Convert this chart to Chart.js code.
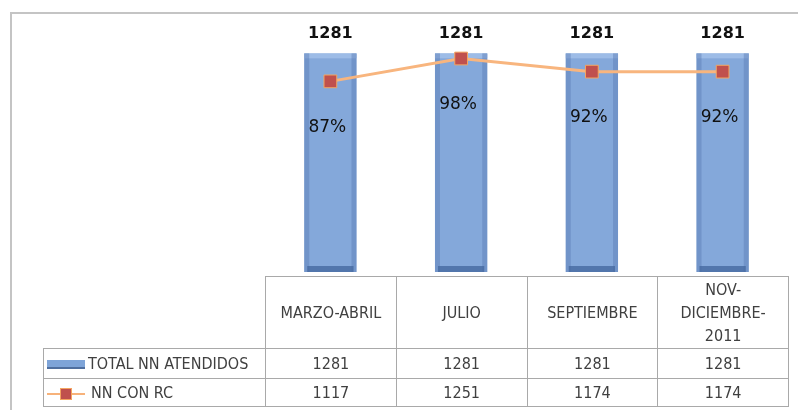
<!DOCTYPE html>
<html>
<head>
<meta charset="utf-8">
<script src="https://cdn.jsdelivr.net/npm/chart.js@4.4.1/dist/chart.umd.min.js"></script>
<style>
    body { margin: 0; background: #fff; }
    #wrap { position: relative; width: 798px; height: 410px; overflow: hidden; }
    #frame { position: absolute; left: 10px; top: 12px; width: 820px; height: 420px;
        border-top: 2px solid #c4c4c4; border-left: 2px solid #c4c4c4; box-sizing: border-box; }
    canvas { position: absolute; left: 0; top: 0; }
    #dt { position: absolute; border-collapse: collapse; table-layout: fixed;
        font-family: "Liberation Sans Narrow", "DejaVu Sans Condensed", sans-serif; font-size: 16px; color: #404040; }
    #dt td, #dt th { border: 1px solid #a9a9a9; text-align: center; font-weight: normal; padding: 0; overflow: hidden; }
    #dt td.blank { border: none; border-right: 1px solid #a9a9a9; }
    #dt th { height: 71px; line-height: 23px; }
    #dt tr.r1 td { height: 29px; }
    #dt tr.r2 td { height: 27px; }
    #dt td.name { text-align: left; white-space: nowrap; padding-left: 3px; }
    .keyBar { display: inline-block; width: 38px; height: 7px; vertical-align: middle; margin-right: 3px;
        background: #7ea4d8; border-bottom: 2px solid #4f6f9f; }
    .keyLine { display: inline-block; position: relative; width: 38px; height: 14px; vertical-align: middle; margin-right: 6px; }
    .keyLine:before { content: ""; position: absolute; left: 0; right: 0; top: 6px; height: 2px; background: #f7b27a; }
    .keyLine:after { content: ""; position: absolute; left: 13px; top: 1px; width: 10px; height: 10px;
        background: #c0504d; border: 1px solid #f4a460; }
</style>
</head>
<body>
<div id="wrap">
    <div id="frame"></div>
    <canvas id="chart" width="798" height="410"></canvas>
    <table id="dt"></table>
</div>
<script>
const categories = [['MARZO-ABRIL'], ['JULIO'], ['SEPTIEMBRE'], ['NOV-', 'DICIEMBRE-', '2011']];
const seriesNames = ['TOTAL NN ATENDIDOS', 'NN CON RC'];
const totalAtendidos = [1281, 1281, 1281, 1281];
const nnConRC = [1117, 1251, 1174, 1174];
const percentLabels = ['87%', '98%', '92%', '92%'];

// relieve en las barras (bordes claros / oscuros)
const bevelPlugin = {
    id: 'bevel',
    afterDatasetDraw(chart, args) {
        if (args.meta.type !== 'bar') return;
        const ctx = chart.ctx;
        args.meta.data.forEach(bar => {
            const l = bar.x - bar.width / 2, r = bar.x + bar.width / 2;
            const t = bar.y, b = bar.base;
            ctx.save();
            ctx.fillStyle = 'rgba(160,190,232,0.9)';
            ctx.fillRect(l, t, bar.width, 5);
            ctx.fillStyle = 'rgba(90,125,180,0.45)';
            ctx.fillRect(l, t, 5, b - t);
            ctx.fillRect(r - 5, t, 5, b - t);
            ctx.fillStyle = 'rgba(70,105,160,0.8)';
            ctx.fillRect(l + 3, b - 6, bar.width - 6, 6);
            ctx.restore();
        });
    }
};

const labelsPlugin = {
    id: 'labels',
    afterDatasetsDraw(chart) {
        const ctx = chart.ctx;
        ctx.save();
        ctx.textAlign = 'center';
        ctx.textBaseline = 'middle';
        const bars = chart.getDatasetMeta(0).data;
        ctx.font = 'bold 16px "DejaVu Sans"';
        ctx.fillStyle = '#111';
        bars.forEach((bar, i) => {
            ctx.fillText(String(totalAtendidos[i]), bar.x, bar.y - 20);
        });
        const points = chart.getDatasetMeta(1).data;
        ctx.font = '17px "DejaVu Sans"';
        ctx.fillStyle = '#111';
        points.forEach((pt, i) => {
            ctx.fillText(percentLabels[i], pt.x - 3, pt.y + 46);
        });
        ctx.restore();
    }
};

const ctx = document.getElementById('chart').getContext('2d');
const myChart = new Chart(ctx, {
    type: 'bar',
    data: {
        labels: categories,
        datasets: [{
            type: 'bar',
            label: seriesNames[0],
            data: totalAtendidos,
            backgroundColor: '#84a8da',
            barPercentage: 0.4,
            categoryPercentage: 1,
            order: 1
        }, {
            type: 'line',
            label: seriesNames[1],
            data: nnConRC,
            borderColor: '#f8b57e',
            borderWidth: 3,
            pointStyle: 'rect',
            pointRadius: 9,
            pointBackgroundColor: '#c0504d',
            pointBorderColor: '#f4a460',
            pointBorderWidth: 1,
            fill: false,
            tension: 0,
            order: 0
        }]
    },
    options: {
        responsive: false,
        animation: false,
        layout: { padding: { left: 265, right: 5, top: 16, bottom: 138 } },
        plugins: { legend: { display: false }, tooltip: { enabled: false } },
        scales: {
            x: { display: false },
            y: { display: false, min: 0, max: 1500 }
        }
    },
    plugins: [bevelPlugin, labelsPlugin]
});

// tabla de datos debajo del grafico
function buildTable(chart) {
    const area = chart.chartArea;
    const xs = chart.scales.x;
    const tableLeft = 43;
    const table = document.getElementById('dt');
    table.style.left = tableLeft + 'px';
    table.style.top = (area.bottom + 4) + 'px';
    table.style.width = (area.right - tableLeft) + 'px';

    let html = '<colgroup><col style="width:' + (area.left - tableLeft) + 'px">';
    categories.forEach(() => {
        html += '<col style="width:' + (xs.width / categories.length) + 'px">';
    });
    html += '</colgroup>';
    html += '<tr><td class="blank"></td>' + categories.map(c => '<th>' + c.join('<br>') + '</th>').join('') + '</tr>';
    html += '<tr class="r1"><td class="name"><span class="keyBar"></span>' + seriesNames[0] + '</td>' +
        totalAtendidos.map(v => '<td>' + v + '</td>').join('') + '</tr>';
    html += '<tr class="r2"><td class="name"><span class="keyLine"></span>' + seriesNames[1] + '</td>' +
        nnConRC.map(v => '<td>' + v + '</td>').join('') + '</tr>';
    table.innerHTML = html;
}
buildTable(myChart);
</script>
</body>
</html>
